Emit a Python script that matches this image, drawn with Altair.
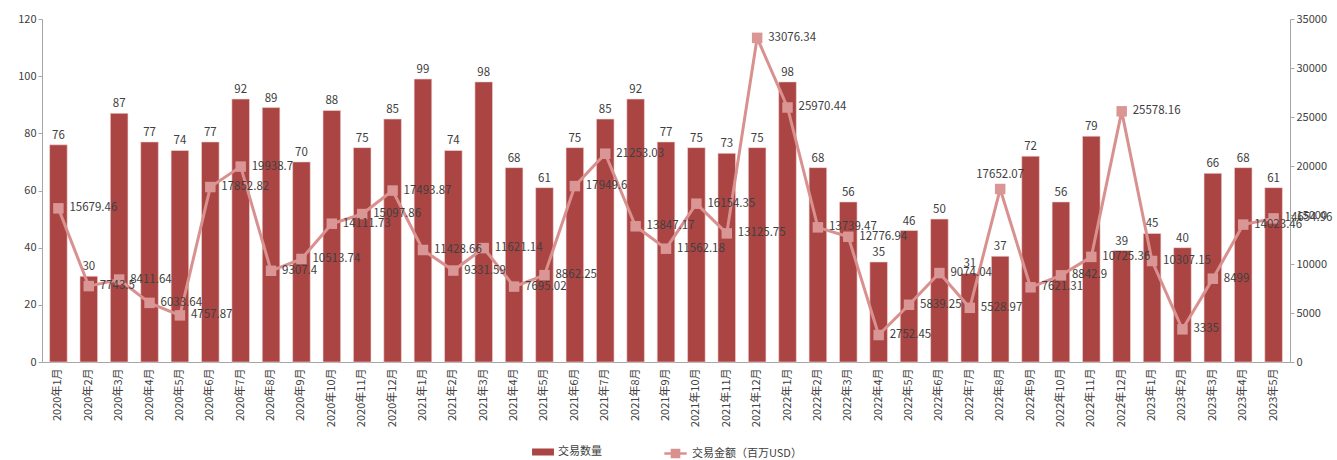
import altair as alt
import pandas as pd

months = [
    "2020年1月", "2020年2月", "2020年3月", "2020年4月", "2020年5月", "2020年6月",
    "2020年7月", "2020年8月", "2020年9月", "2020年10月", "2020年11月", "2020年12月",
    "2021年1月", "2021年2月", "2021年3月", "2021年4月", "2021年5月", "2021年6月",
    "2021年7月", "2021年8月", "2021年9月", "2021年10月", "2021年11月", "2021年12月",
    "2022年1月", "2022年2月", "2022年3月", "2022年4月", "2022年5月", "2022年6月",
    "2022年7月", "2022年8月", "2022年9月", "2022年10月", "2022年11月", "2022年12月",
    "2023年1月", "2023年2月", "2023年3月", "2023年4月", "2023年5月",
]
counts = [
    76, 30, 87, 77, 74, 77, 92, 89, 70, 88, 75, 85,
    99, 74, 98, 68, 61, 75, 85, 92, 77, 75, 73, 75,
    98, 68, 56, 35, 46, 50, 31, 37, 72, 56, 79, 39,
    45, 40, 66, 68, 61,
]
amounts = [
    15679.46, 7743.5, 8411.64, 6033.64, 4757.87, 17852.82, 19938.7, 9307.4, 10513.74, 14111.73, 15097.86, 17493.87,
    11428.66, 9331.59, 11621.14, 7695.02, 8862.25, 17949.6, 21253.03, 13847.17, 11562.18, 16154.35, 13125.75, 33076.34,
    25970.44, 13739.47, 12776.94, 2752.45, 5839.25, 9074.04, 5528.97, 17652.07, 7621.31, 8842.9, 10725.36, 25578.16,
    10307.15, 3335, 8499, 14023.46, 14654.96,
]
series_names = ["交易数量", "交易金额（百万USD）"]
above_label_months = ["2022年8月"]

df = pd.DataFrame({"month": months, "count": counts, "amount": amounts})
df["s1"] = series_names[0]
df["s2"] = series_names[1]
df["above"] = df["month"].isin(above_label_months)

BAR = "#AB4543"
LINE = "#D9918F"
FONT = "Noto Sans CJK SC"
TXT = "#404040"

x = alt.X(
    "month:N", sort=months, title=None,
    scale=alt.Scale(paddingInner=0.42, paddingOuter=0.25),
    axis=alt.Axis(labelAngle=270, ticks=False, labelPadding=6, labelFontSize=11,
                  labelColor=TXT, domainColor="#A6A6A6", labelFont=FONT),
)

left_axis = alt.Axis(values=[0, 20, 40, 60, 80, 100, 120], grid=False, title=None,
                     labelFontSize=11, labelColor=TXT, domainColor="#A6A6A6",
                     tickColor="#A6A6A6", tickSize=4, labelFont=FONT)
right_axis = alt.Axis(orient="right", values=list(range(0, 35001, 5000)), grid=False,
                      title=None, format="d", labelFontSize=11, labelColor=TXT,
                      domainColor="#A6A6A6", tickColor="#A6A6A6", tickSize=4, labelFont=FONT)

yl = alt.Y("count:Q", scale=alt.Scale(domain=[0, 120], nice=False), axis=left_axis)
yr = alt.Y("amount:Q", scale=alt.Scale(domain=[0, 35000], nice=False), axis=right_axis)

base = alt.Chart(df)

bars = base.mark_bar(stroke="#F3DADA", strokeWidth=0.6).encode(
    x=x, y=yl,
    fill=alt.Fill("s1:N", scale=alt.Scale(domain=[series_names[0]], range=[BAR]),
                  legend=alt.Legend(title=None, orient="none", legendX=490, legendY=422,
                                    padding=0, symbolType="M-1,-0.32H1V0.32H-1Z", symbolSize=480,
                                    symbolStrokeWidth=0, labelFontSize=11, labelColor=TXT,
                                    labelFont=FONT)),
)
bar_text = base.mark_text(dy=-9, fontSize=11.5, color=TXT, font=FONT).encode(
    x=x, y=yl, text=alt.Text("count:Q")
)

line = base.mark_line(strokeWidth=3).encode(
    x=x, y=yr,
    stroke=alt.Stroke("s2:N", scale=alt.Scale(domain=[series_names[1]], range=[LINE]),
                      legend=alt.Legend(title=None, orient="none", legendX=621, legendY=422,
                                        padding=0,
                                        symbolType="M-1,0H1M-0.32,-0.32H0.32V0.32H-0.32Z",
                                        symbolSize=500, symbolStrokeWidth=2.5,
                                        symbolFillColor=LINE, labelFontSize=11,
                                        labelColor=TXT, labelFont=FONT)),
)
points = base.mark_point(shape="square", filled=True, size=110, opacity=1,
                         color="#DA9694").encode(x=x, y=yr)
line_text = base.transform_filter("!datum.above").mark_text(
    align="left", dx=11, baseline="middle", fontSize=11.5, color=TXT, font=FONT
).encode(x=x, y=yr, text=alt.Text("amount:Q"))
line_text_above = base.transform_filter("datum.above").mark_text(
    align="center", dy=-14, baseline="middle", fontSize=11.5, color=TXT, font=FONT
).encode(x=x, y=yr, text=alt.Text("amount:Q"))

left = alt.layer(bars, bar_text)
right = alt.layer(line, points, line_text, line_text_above)

chart = alt.layer(left, right).resolve_scale(y="independent").properties(
    width=1248, height=343,
    autosize=alt.AutoSizeParams(type="none"),
    padding={"left": 42, "top": 19, "right": 47, "bottom": 98},
    background="white",
).configure_view(stroke=None)

chart.save("out.html", embed_options={"renderer": "svg", "actions": False})
